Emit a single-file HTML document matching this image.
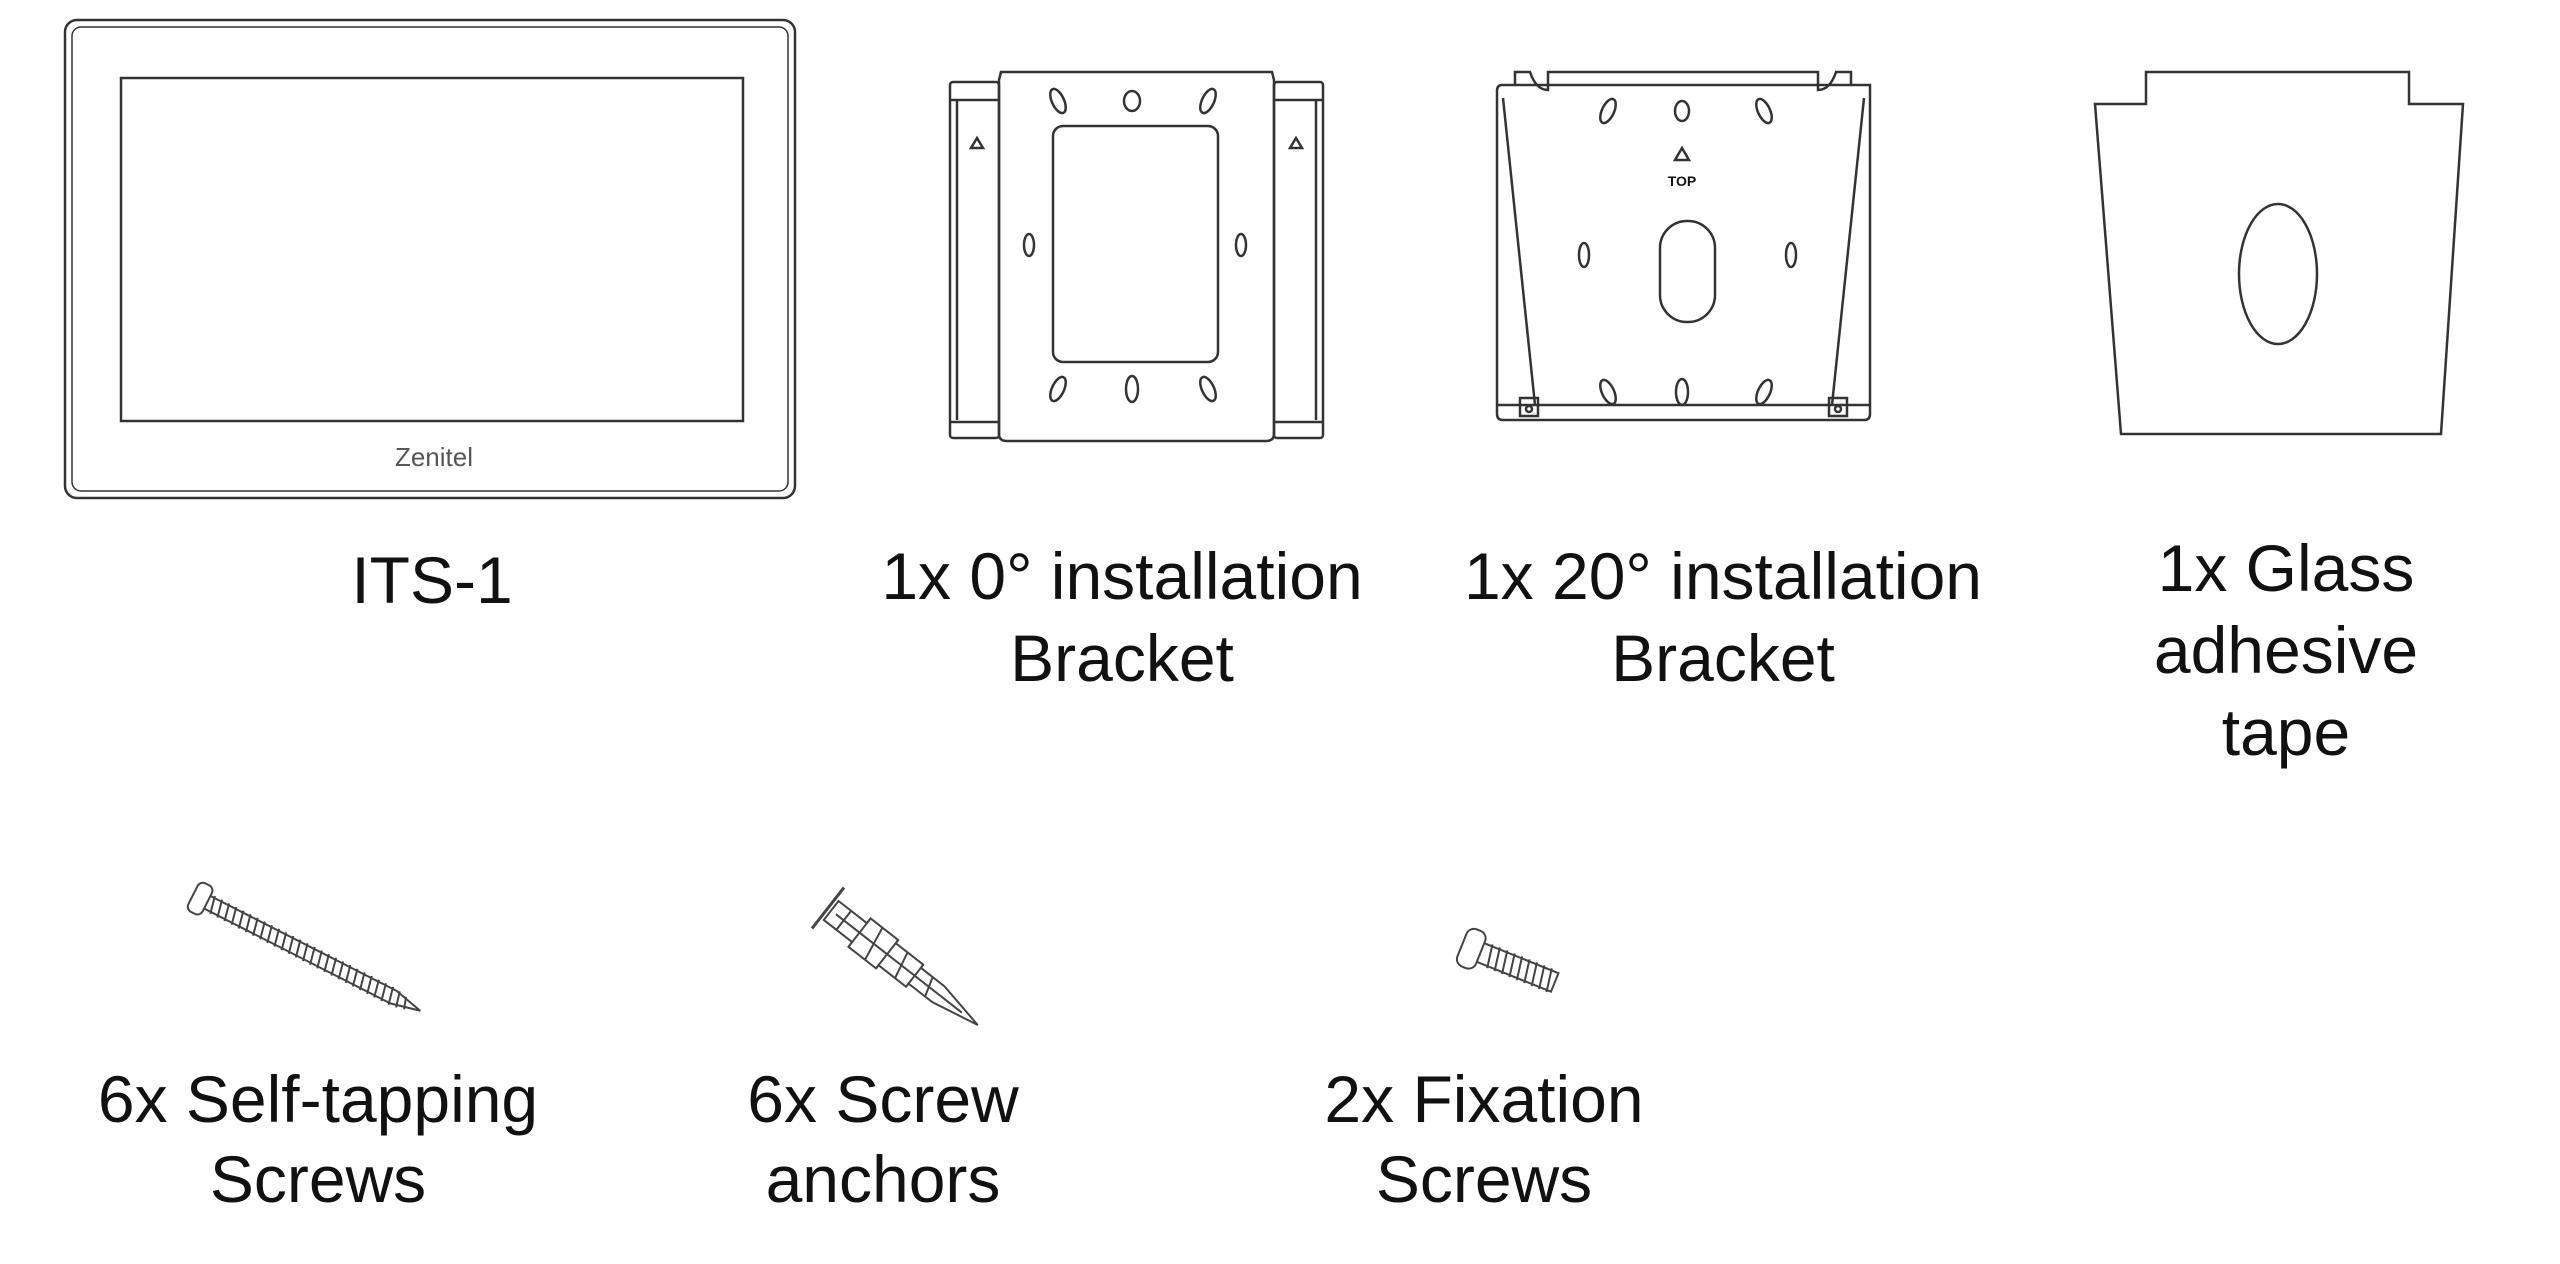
<!DOCTYPE html>
<html><head><meta charset="utf-8"><style>
html,body{margin:0;padding:0;background:#fff;}
svg{display:block}
text{font-family:"Liberation Sans",Arial,sans-serif;fill:#111;}
</style></head><body>
<svg width="2560" height="1264" viewBox="0 0 2560 1264" xmlns="http://www.w3.org/2000/svg">
<g fill="none" stroke="#333" stroke-width="2.5">
<!-- ITS-1 -->
<rect x="65" y="20" width="730" height="478" rx="12"/>
<rect x="72" y="27" width="716" height="464" rx="9" stroke-width="1.5"/>
<rect x="121" y="78" width="622" height="343"/>
</g>
<text x="434" y="466" font-size="26" text-anchor="middle" fill="#555" style="fill:#555">Zenitel</text>

<!-- 0 deg bracket -->
<g fill="none" stroke="#333" stroke-width="2.5">
<path d="M1001 72 H1272 L1274 80 V434 Q1274 441 1266 441 H1007 Q999 441 999 434 V80 Z"/>
<rect x="950" y="82" width="49" height="356" rx="3"/>
<rect x="1274" y="82" width="49" height="356" rx="3"/>
<line x1="957" y1="100" x2="957" y2="420"/>
<line x1="1316" y1="100" x2="1316" y2="420"/>
<line x1="950" y1="100" x2="999" y2="100"/><line x1="950" y1="422" x2="999" y2="422"/>
<line x1="1274" y1="100" x2="1323" y2="100"/><line x1="1274" y1="422" x2="1323" y2="422"/>
<path d="M971 148 L977 138 L983 148 Z"/>
<path d="M1290 148 L1296 138 L1302 148 Z"/>
<rect x="1053" y="126" width="165" height="236" rx="10"/>
<ellipse cx="1058" cy="101" rx="6" ry="13" transform="rotate(-25 1058 101)"/>
<ellipse cx="1132" cy="101" rx="8" ry="10"/>
<ellipse cx="1208" cy="101" rx="6" ry="13" transform="rotate(25 1208 101)"/>
<ellipse cx="1029" cy="245" rx="5" ry="11"/>
<ellipse cx="1241" cy="245" rx="5" ry="11"/>
<ellipse cx="1058" cy="389" rx="6" ry="13" transform="rotate(25 1058 389)"/>
<ellipse cx="1132" cy="389" rx="6" ry="13"/>
<ellipse cx="1208" cy="389" rx="6" ry="13" transform="rotate(-25 1208 389)"/>
</g>

<!-- 20 deg bracket -->
<g fill="none" stroke="#333" stroke-width="2.5">
<path d="M1502 85 H1870 V414 Q1870 420 1864 420 H1503 Q1497 420 1497 414 V91 Q1497 85 1502 85 Z"/>
<path d="M1515 85 V72 H1530 Q1536 90 1548 90 L1548 72 H1818 V90 Q1830 90 1836 72 H1851 V85"/>
<line x1="1503" y1="98" x2="1535" y2="405"/>
<line x1="1864" y1="98" x2="1832" y2="405"/>
<line x1="1497" y1="405" x2="1870" y2="405"/>
<rect x="1520" y="398" width="18" height="18"/>
<rect x="1829" y="398" width="18" height="18"/>
<circle cx="1529" cy="409" r="3"/><circle cx="1838" cy="409" r="3"/>
<path d="M1675 160 L1682 148 L1689 160 Z"/>
<ellipse cx="1608" cy="111" rx="6" ry="13" transform="rotate(25 1608 111)"/>
<ellipse cx="1682" cy="111" rx="7" ry="10"/>
<ellipse cx="1764" cy="111" rx="6" ry="13" transform="rotate(-25 1764 111)"/>
<rect x="1660" y="221" width="55" height="101" rx="27"/>
<ellipse cx="1584" cy="255" rx="5" ry="12"/>
<ellipse cx="1791" cy="255" rx="5" ry="12"/>
<ellipse cx="1608" cy="392" rx="6" ry="13" transform="rotate(-25 1608 392)"/>
<ellipse cx="1682" cy="392" rx="6" ry="13"/>
<ellipse cx="1764" cy="392" rx="6" ry="13" transform="rotate(25 1764 392)"/>
</g>
<text x="1682" y="186" font-size="14" font-weight="bold" text-anchor="middle">TOP</text>

<!-- tape -->
<g fill="none" stroke="#333" stroke-width="2.5">
<path d="M2146 104 V72 H2409 V104 H2463 L2441 434 H2121 L2095 104 Z"/>
<ellipse cx="2278" cy="274" rx="39" ry="70"/>
</g>

<!-- self tapping screw -->
<g fill="none" stroke="#444" stroke-width="2">
<g transform="translate(193,895) rotate(27)">
<rect x="0" y="-16" width="16" height="32" rx="6"/>
<path d="M16 -7 H225 L255 0 L225 7 H16"/>
<path d="M20 -9 l4 18 M28 -9 l4 18 M36 -9 l4 18 M44 -9 l4 18 M52 -9 l4 18 M60 -9 l4 18 M68 -9 l4 18 M76 -9 l4 18 M84 -9 l4 18 M92 -9 l4 18 M100 -9 l4 18 M108 -9 l4 18 M116 -9 l4 18 M124 -9 l4 18 M132 -9 l4 18 M140 -9 l4 18 M148 -9 l4 18 M156 -9 l4 18 M164 -9 l4 18 M172 -9 l4 18 M180 -9 l4 18 M188 -9 l4 18 M196 -9 l4 18 M204 -9 l4 18 M212 -9 l4 18 M220 -9 l4 18 M228 -8 l4 16 M236 -6 l4 12"/>
</g>
<!-- anchor -->
<g transform="translate(828,908) rotate(38)">
<line x1="0" y1="-26" x2="0" y2="26" stroke-width="3"/>
<path d="M4 -12 H40 V-18 H75 V-14 H110 V-10 H140 L190 0 L140 10 H110 V14 H75 V18 H40 V12 H4 Z"/>
<path d="M40 -18 V18 M75 -18 V18 M110 -14 V14 M90 -14 L96 14 M125 -10 L131 10 M55 -18 L61 18 M20 -12 V12"/>
<line x1="10" y1="0" x2="170" y2="0"/>
</g>
<!-- fixation screw -->
<g transform="translate(1462,945) rotate(22)">
<rect x="0" y="-20" width="20" height="40" rx="8"/>
<path d="M20 -10 H100 V10 H20"/>
<path d="M28 -12 l4 24 M36 -12 l4 24 M44 -12 l4 24 M52 -12 l4 24 M60 -12 l4 24 M68 -12 l4 24 M76 -12 l4 24 M84 -12 l4 24 M92 -12 l4 24"/>
</g>
</g>

<!-- labels -->
<g font-size="66" text-anchor="middle">
<text x="432" y="603">ITS-1</text>
<text x="1122" y="599">1x  0° installation</text>
<text x="1122" y="681">Bracket</text>
<text x="1723" y="599">1x  20° installation</text>
<text x="1723" y="681">Bracket</text>
<text x="2286" y="591">1x Glass</text>
<text x="2286" y="673">adhesive</text>
<text x="2286" y="755">tape</text>
<text x="318" y="1122">6x Self-tapping</text>
<text x="318" y="1202">Screws</text>
<text x="883" y="1122">6x Screw</text>
<text x="883" y="1202">anchors</text>
<text x="1484" y="1122">2x Fixation</text>
<text x="1484" y="1202">Screws</text>
</g>
</svg>
</body></html>
